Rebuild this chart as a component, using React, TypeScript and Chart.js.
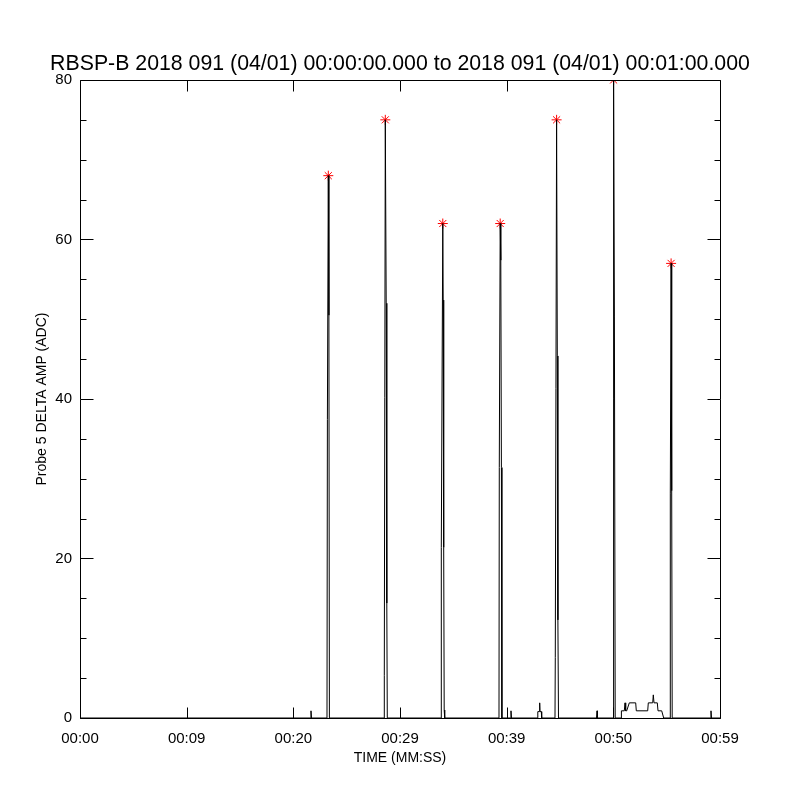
import React, { useEffect, useRef } from "react";
import { Chart, registerables } from "chart.js";

Chart.register(...registerables);

const titleText =
  "RBSP-B 2018 091 (04/01) 00:00:00.000 to 2018 091 (04/01) 00:01:00.000";
const xAxisTitle = "TIME (MM:SS)";
const yAxisTitle = "Probe 5 DELTA AMP (ADC)";

// x axis: seconds from 00:00:00
const xTickValues = [0, 10, 20, 30, 40, 50, 60];
const xTickLabels = ["00:00", "00:09", "00:20", "00:29", "00:39", "00:50", "00:59"];
const yMajorTicks = [0, 20, 40, 60, 80];
const yMinorTicks = [5, 10, 15, 25, 30, 35, 45, 50, 55, 65, 70, 75];

// trace (time in s, amplitude in ADC)
const traceTimes = [
  0, 21.609, 21.656, 21.703,
  23.156, 23.194, 23.278, 23.334, 23.381,
  28.5, 28.528, 28.622, 28.706, 28.763, 28.809,
  33.844, 33.872, 34.012, 34.05, 34.097, 34.144, 34.191,
  39.281, 39.309, 39.394, 39.45, 39.506, 39.553,
  40.359, 40.406, 40.453,
  42.9, 42.919, 43.069, 43.097, 43.125, 43.247, 43.284,
  44.531, 44.559, 44.681, 44.747, 44.803, 44.859,
  48.422, 48.469, 48.516,
  49.969, 50.025, 50.1, 50.175,
  50.747, 50.756, 51.028, 51.094, 51.159, 51.253, 51.497, 52.097, 52.153,
  53.222, 53.278, 53.691, 53.747, 53.813, 54.122, 54.188, 54.534, 54.722,
  55.313, 55.341, 55.416, 55.472, 55.519,
  59.109, 59.156, 59.203,
  60,
];
const traceValues = [
  0, 0, 0.9, 0,
  0, 37.4, 68, 50.5, 0,
  0, 5.3, 75, 52, 14.4, 0,
  0, 21.4, 62, 52.4, 21.4, 1.0, 0,
  0, 31.4, 62, 57.4, 31.4, 0,
  0, 0.9, 0,
  0, 0.8, 0.8, 1.9, 0.8, 0.8, 0,
  0, 7.6, 75, 45.4, 12.3, 0,
  0, 0.9, 0,
  0, 80, 50.4, 0,
  0, 0.9, 0.9, 1.9, 0.9, 0.9, 1.9, 1.9, 0.9,
  0.9, 1.9, 1.9, 2.9, 1.9, 1.9, 0.9, 0.9, 0,
  0, 28.2, 57, 28.5, 0,
  0, 0.9, 0,
  0,
];

// red asterisks at the spike maxima
const peakTimes = [23.278, 28.622, 34.012, 39.394, 44.681, 50.025, 55.416];
const peakValues = [68, 75, 62, 62, 75, 80, 57];

const FONT = "'Liberation Sans', Arial, sans-serif";

const framePlugin = {
  id: "idlFrame",
  afterDraw(chart: any) {
    const { ctx, chartArea: a, scales } = chart;
    const xs = scales.x;
    const ys = scales.y;
    const L = Math.round(a.left) + 0.5;
    const R = Math.round(a.right) + 0.5;
    const T = Math.round(a.top) + 0.5;
    const B = Math.round(a.bottom) + 0.5;
    ctx.save();
    ctx.strokeStyle = "#000";
    ctx.lineWidth = 1;
    ctx.beginPath();
    ctx.rect(L, T, R - L, B - T);
    for (const v of xTickValues) {
      const px = Math.round(xs.getPixelForValue(v)) + 0.5;
      ctx.moveTo(px, B);
      ctx.lineTo(px, B - 11);
      ctx.moveTo(px, T);
      ctx.lineTo(px, T + 11);
    }
    for (const v of yMajorTicks) {
      const py = Math.round(ys.getPixelForValue(v)) + 0.5;
      ctx.moveTo(L, py);
      ctx.lineTo(L + 13, py);
      ctx.moveTo(R, py);
      ctx.lineTo(R - 13, py);
    }
    for (const v of yMinorTicks) {
      const py = Math.round(ys.getPixelForValue(v)) + 0.5;
      ctx.moveTo(L, py);
      ctx.lineTo(L + 6, py);
      ctx.moveTo(R, py);
      ctx.lineTo(R - 6, py);
    }
    ctx.stroke();
    ctx.restore();
  },
};

export default function App() {
  const ref = useRef<HTMLCanvasElement | null>(null);

  useEffect(() => {
    if (!ref.current) return;
    Chart.defaults.color = "#000";
    Chart.defaults.font.family = FONT;

    const trace = traceTimes.map((t, i) => ({ x: t, y: traceValues[i] }));
    const peaks = peakTimes.map((t, i) => ({ x: t, y: peakValues[i] }));

    const chart = new Chart(ref.current, {
      type: "scatter",
      data: {
        datasets: [
          {
            label: "trace",
            data: trace,
            showLine: true,
            borderColor: "#000",
            borderWidth: 1,
            pointRadius: 0,
            tension: 0,
            clip: { left: 0, top: 0, right: 0, bottom: 1 } as any,
          },
          {
            label: "peaks",
            data: peaks,
            showLine: false,
            pointStyle: "star",
            pointRadius: 5,
            borderColor: "#ff0000",
            backgroundColor: "#ff0000",
            borderWidth: 1,
          },
        ],
      },
      options: {
        animation: false,
        responsive: false,
        devicePixelRatio: 1,
        events: [],
        layout: { padding: 0 },
        plugins: {
          legend: { display: false },
          tooltip: { enabled: false },
          title: {
            display: true,
            text: titleText,
            color: "#000",
            font: { family: FONT, size: 21.3, weight: "normal" },
            padding: { top: 51.2, bottom: 3.2 },
          },
        },
        scales: {
          x: {
            type: "linear",
            min: 0,
            max: 60,
            afterBuildTicks: (scale: any) => {
              scale.ticks = xTickValues.map((v) => ({ value: v }));
            },
            afterFit: (scale: any) => {
              scale.height = 82;
            },
            ticks: {
              autoSkip: false,
              maxRotation: 0,
              padding: 12,
              color: "#000",
              font: { family: FONT, size: 15 },
              callback: (_v: any, i: number) => xTickLabels[i],
            },
            grid: { display: false, drawTicks: false },
            border: { display: false },
            title: {
              display: true,
              text: xAxisTitle,
              color: "#000",
              font: { family: FONT, size: 14 },
              padding: { top: 0, bottom: 33.6 },
            },
          },
          y: {
            type: "linear",
            position: "left",
            min: 0,
            max: 80,
            afterBuildTicks: (scale: any) => {
              scale.ticks = yMajorTicks.map((v) => ({ value: v }));
            },
            afterFit: (scale: any) => {
              scale.width = 80;
            },
            ticks: {
              autoSkip: false,
              padding: 8,
              color: "#000",
              font: { family: FONT, size: 15 },
              callback: (v: any) => String(v),
            },
            grid: { display: false, drawTicks: false },
            border: { display: false },
            title: {
              display: true,
              text: yAxisTitle,
              color: "#000",
              font: { family: FONT, size: 14 },
              padding: { top: 33.6, bottom: 0 },
            },
          },
          yRight: {
            type: "linear",
            position: "right",
            min: 0,
            max: 80,
            afterFit: (scale: any) => {
              scale.width = 80;
            },
            ticks: { display: false },
            grid: { display: false, drawTicks: false },
            border: { display: false },
          },
        },
      },
      plugins: [framePlugin],
    });
    return () => chart.destroy();
  }, []);

  return (
    <div style={{ position: "absolute", left: 0, top: 0, width: 800, height: 800, background: "#fff" }}>
      <canvas ref={ref} width={800} height={800} style={{ display: "block" }} />
    </div>
  );
}
